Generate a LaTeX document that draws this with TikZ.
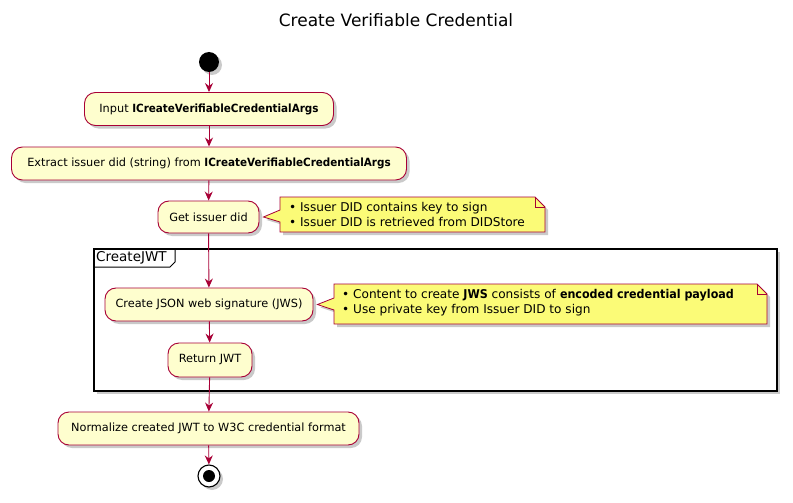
\documentclass[tikz,border=0pt]{standalone}
\usepackage{fontspec}
\setmainfont{DejaVu Sans}[BoldFeatures={FakeStretch=0.92}]
\usetikzlibrary{arrows.meta,shadows,backgrounds}
\definecolor{umlred}{HTML}{A80036}
\definecolor{umlbox}{HTML}{FEFECE}
\definecolor{umlnote}{HTML}{FBFB77}
\tikzset{
  umlshadow/.style={drop shadow={shadow xshift=3pt,shadow yshift=-3pt,opacity=0.35,fill=black!60}},
  act/.style={draw=umlred,fill=umlbox,line width=0.9pt,rounded corners=11pt,
    minimum height=33pt,inner sep=0pt,umlshadow,font=\fontsize{11.3}{13}\selectfont},
  flow/.style={-{Stealth[length=9pt,width=8pt,inset=3pt]},umlred,line width=0.9pt},
  notetext/.style={inner sep=0pt,align=left,anchor=west,font=\fontsize{12.1}{15}\selectfont},
  notebg/.style={draw=umlred,fill=umlnote,line width=0.8pt,umlshadow},
}
\begin{document}
\begin{tikzpicture}[x=1pt,y=-1pt]
  \useasboundingbox (0,0) rectangle (793,503);
  \node[font=\fontsize{17}{19}\selectfont] (title) at (396,20) {Create Verifiable Credential};

  % activity flow
  \node[circle,fill=black,minimum size=20pt,inner sep=0pt,umlshadow] (start) at (209,62) {};
  \node[act,minimum width=249pt] (input) at (209,109) {Input \textbf{ICreateVerifiableCredentialArgs}};
  \node[act,minimum width=395pt] (extract) at (209,163.5) {Extract issuer did (string) from \textbf{ICreateVerifiableCredentialArgs}};
  \node[act,minimum width=101pt,minimum height=32pt] (getdid) at (208.5,217) {Get issuer did};
  \node[act,minimum width=208pt] (jws) at (209,304.5) {Create JSON web signature (JWS)};
  \node[act,minimum width=84pt,minimum height=34pt] (retjwt) at (210,360) {Return JWT};
  \node[act,minimum width=301pt] (normalize) at (208.5,428.5) {Normalize created JWT to W3C credential format};
  \node[circle,draw=black,fill=white,line width=1.1pt,minimum size=22pt,inner sep=0pt,umlshadow,
    path picture={\fill[black] (path picture bounding box.center) circle (6pt);}] (stop) at (209,476) {};

  % frame CreateJWT
  \begin{scope}[on background layer]
    \draw[line width=1.3pt,fill=white,umlshadow] (94,249) rectangle (777,391);
  \end{scope}
  \draw[line width=1pt] (94,267) -- (170,267) -- (175,262) -- (175,249);
  \node[anchor=west,inner sep=0pt,font=\fontsize{13.5}{15}\selectfont] (frametitle) at (96,258) {CreateJWT};

  % notes
  \node[notetext] (didnote) at (289,214) {\textbullet\ Issuer DID contains key to sign\\\textbullet\ Issuer DID is retrieved from DIDStore};
  \node[notetext] (jwsnote) at (342,303) {\textbullet\ Content to create \textbf{JWS} consists of \textbf{encoded credential payload}\\\textbullet\ Use private key from Issuer DID to sign};
  \begin{scope}[on background layer]
    \draw[notebg] (280,197) -- (535,197) -- (545,207) -- (545,232) -- (280,232) -- (280,222)
      -- ([xshift=4pt]getdid.east) -- (280,210) -- cycle;
    \draw[notebg] (334,284) -- (757,284) -- (767,294) -- (767,324) -- (334,324) -- (334,310)
      -- ([xshift=4pt]jws.east) -- (334,298) -- cycle;
  \end{scope}
  \draw[umlred,line width=0.8pt] (535,197) -- (535,207) -- (545,207);
  \draw[umlred,line width=0.8pt] (757,284) -- (757,294) -- (767,294);

  % connectors
  \draw[flow] (start) -- (input);
  \draw[flow] (input) -- (extract);
  \draw[flow] (extract) -- (getdid);
  \draw[flow] (getdid) -- (jws);
  \draw[flow] (jws) -- (retjwt);
  \draw[flow] (retjwt) -- (normalize);
  \draw[flow] (normalize) -- (stop);
\end{tikzpicture}
\end{document}
